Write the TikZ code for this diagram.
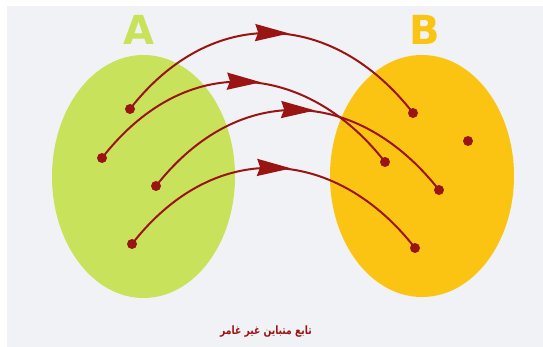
\documentclass[tikz,border=0pt]{standalone}
\usepackage{fontspec}
\setmainfont{DejaVu Sans}
\newfontfamily\arabicfont[Script=Arabic]{DejaVu Sans}
\TeXXeTstate=1
\usetikzlibrary{arrows.meta,decorations.markings}
\definecolor{bg}{RGB}{240,242,245}
\definecolor{setA}{RGB}{200,226,92}
\definecolor{setB}{RGB}{252,196,18}
\definecolor{maproon}{RGB}{155,20,20}
\tikzset{
  elem/.style={circle,fill=maproon,inner sep=0pt,minimum size=10pt},
  % the arrow head sits centred on the middle of each curve
  mapping/.style={draw=maproon,line width=2pt,
    postaction={decorate,decoration={markings,
      mark=at position 0.5 with {\arrow[xshift=17pt]{Stealth[length=34pt,width=17pt,inset=3pt]}}}}},
  setlabel/.style={font=\bfseries\fontsize{40}{40}\selectfont}
}
\begin{document}
\begin{tikzpicture}[x=1pt,y=-1pt]
\useasboundingbox (0,0) rectangle (543,347);
\fill[white] (0,0) rectangle (543,347);
\fill[bg] (7,6) rectangle (543,347);
% the two sets
\fill[setA] (143.5,176.5) ellipse [x radius=91.5, y radius=121.5];
\fill[setB] (422,176) ellipse [x radius=92, y radius=121];
\node[setlabel,text=setA] (la) at (139,30) {A};
\node[setlabel,text=setB] (lb) at (425,30) {B};
% elements of A
\node[elem] (a1) at (130,109) {};
\node[elem] (a2) at (102,158) {};
\node[elem] (a3) at (156,186) {};
\node[elem] (a4) at (132,244) {};
% elements of B
\node[elem] (b1) at (413,113) {};
\node[elem] (b2) at (468,141) {};
\node[elem] (b3) at (385,162) {};
\node[elem] (b4) at (439,190) {};
\node[elem] (b5) at (415,248) {};
% the mapping
\draw[mapping] (a1.center) .. controls (211,5) and (332,9) .. (b1.center);
\draw[mapping] (a2.center) .. controls (191,44) and (312,68) .. (b3.center);
\draw[mapping] (a3.center) .. controls (239,80) and (359,88) .. (b4.center);
\draw[mapping] (a4.center) .. controls (217,135) and (338,149) .. (b5.center);
% caption
\node[text=maproon,font=\arabicfont\bfseries\fontsize{11.5}{13}\selectfont] (cap) at (266,332)
  {\scalebox{0.8}[1]{\beginR تابع متباین غیر غامر\endR}};
\end{tikzpicture}
\end{document}
